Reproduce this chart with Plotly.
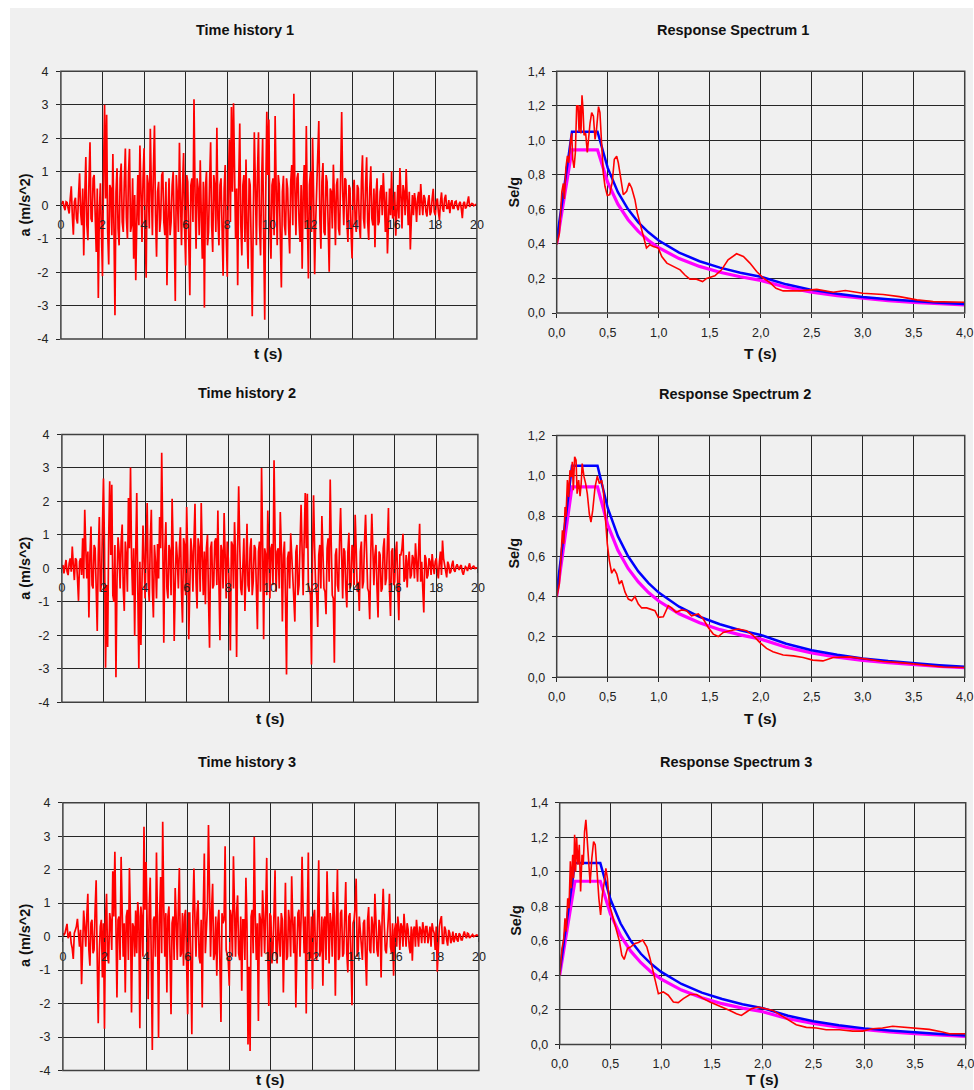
import plotly.graph_objects as go

# ---------------- DATA ----------------
# Time histories digitised on two interleaved sample grids:
#   *_a at t = 0.0, 0.1, ..., 20.0   and   *_b at t = 0.05, 0.15, ..., 19.95
TH_DT = 0.1

th1_a = [0.0, 0.12, -0.15, 0.08, -0.25, 0.56, -0.88, 0.22, -0.55, 0.95,
         -0.6, -1.5, 1.44, -1.05, 1.88, -0.5, 0.9, -1.4, -2.77, 0.65,
         -2.12, 3.0, 2.7, -1.77, 0.5, 1.53, -3.29, 1.1, -1.2, 1.24,
         -0.8, 1.69, -1.0, 1.68, -0.6, -1.6, -2.24, 0.9, 1.78, -1.1,
         1.7, -2.17, 0.6, 2.28, -0.9, 2.38, -1.54, 0.7, -0.4, 1.0,
         -0.9, -2.39, 0.8, -0.5, 1.0, -2.86, 0.3, 1.86, -1.2, 1.56,
         -1.8, 0.7, -2.69, 0.8, 3.16, -1.3, 0.5, 1.34, -1.6, -3.06,
         1.0, -0.8, 1.88, -1.4, 0.6, 2.31, -1.2, 0.8, -2.11, 1.2,
         -2.14, 1.96, 2.93, 3.04, -1.0, -2.39, 2.44, -1.5, 0.9, 1.36,
         -1.9, 0.6, -3.32, 2.18, -1.2, 2.18, -1.5, 1.98, -3.42, 2.79,
         2.56, -1.6, 0.8, 2.66, -1.2, 0.6, -2.46, 0.88, -0.9, 0.5,
         -1.44, 1.2, 3.33, -0.9, 0.96, -1.1, -1.9, 1.2, 2.36, -2.19,
         1.0, 2.01, -2.06, 0.6, 2.51, -1.3, 1.26, -0.9, 0.7, -1.99,
         0.4, 1.21, -1.2, 0.8, -0.9, 2.78, -0.6, 0.76, -1.1, 0.5,
         -1.59, 0.76, -0.8, 0.5, -1.0, 1.49, -0.7, 1.43, -1.04, 1.16,
         -0.6, -1.26, 0.8, -0.5, 0.6, 0.96, -0.8, -1.44, 0.5, 1.01,
         -0.3, -0.91, 0.6, 1.11, -0.7, 0.4, 1.08, -0.6, -1.32, 0.3,
         0.36, -0.5, 0.4, 0.63, -0.3, 0.2, -0.34, 0.3, -0.2, 0.49,
         -0.3, 0.2, -0.44, 0.38, -0.2, 0.31, -0.1, -0.24, 0.15, -0.1,
         0.12, -0.15, 0.1, -0.39, 0.1, -0.05, 0.26, 0.02, 0.04, 0.0,
         0.0]
th1_b = [0.05, -0.05, 0.1, -0.1, 0.2, -0.3, 0.1, -0.4, 0.3, -0.2,
         0.5, 0.3, -0.6, 0.7, -0.4, 0.8, -0.3, 0.5, -0.2, -0.8,
         0.9, 0.2, -0.8, 0.6, -0.9, -0.6, 0.4, -0.7, 0.8, -0.5,
         0.7, -0.4, 0.9, -0.8, 0.8, 0.3, -0.5, -0.6, 0.4, 0.8,
         -0.6, 0.9, -0.7, 0.5, 1.1, -0.3, 0.4, -0.8, 0.9, -0.5,
         0.7, -0.4, -0.9, 0.6, -0.7, 0.9, -0.8, 0.2, 0.6, -0.7,
         0.9, -1.1, 0.6, -0.5, 0.4, 0.8, -0.9, -0.3, 0.7, 0.5,
         -1.2, 0.7, -0.6, 0.9, -0.8, -0.4, 0.6, -0.7, 0.5, -0.9,
         0.6, -0.5, 0.4, 1.0, 0.5, 0.7, -0.6, 0.6, -1.1, -0.8,
         0.8, -1.2, -0.4, 0.6, 0.9, -0.6, 0.7, -1.0, 0.4, 0.9,
         -0.7, 0.6, -0.9, 0.5, 0.9, -1.0, 0.4, -0.6, 0.8, -0.7,
         0.7, -0.6, 0.5, 0.8, -0.5, 0.6, 0.4, -0.7, -0.4, 0.6,
         -0.8, 0.3, -0.5, 1.0, -0.4, 0.7, -0.8, 0.9, -0.6, 0.5,
         -0.7, 0.2, 0.6, -0.7, 0.9, 0.4, 0.8, -0.5, 0.6, -0.8,
         0.4, -0.5, 0.6, -0.6, 0.7, -0.4, 0.6, -0.5, 0.5, -0.4,
         0.5, 0.3, -0.6, 0.4, -0.3, 0.2, 0.4, -0.5, -0.3, -0.4,
         0.4, -0.2, -0.4, 0.3, 0.6, -0.3, 0.2, 0.4, -0.4, -0.3,
         0.1, 0.2, -0.3, 0.1, 0.3, -0.2, 0.1, -0.3, 0.2, -0.2,
         0.1, -0.2, 0.1, -0.1, 0.2, -0.1, 0.15, 0.05, -0.1, 0.1,
         -0.05, 0.05, -0.1, 0.05, -0.1, 0.1, -0.05, 0.05, -0.02, 0.02]

th2_a = [0.0, -0.15, 0.25, -0.2, 0.3, 0.65, -0.35, 0.25, -0.97, 0.3,
         0.9, 1.75, -0.3, -1.47, 1.25, -0.6, 0.6, -1.87, 1.53, -0.5,
         2.68, -2.97, -2.35, 2.6, 2.5, -1.0, -3.25, 0.93, -0.6, 1.31,
         -1.27, 0.4, 2.1, 3.01, -0.8, -2.02, 2.25, -2.99, -2.29, 1.28,
         -0.9, 1.95, -1.0, 1.75, -1.47, 0.2, 0.73, 1.53, 3.45, -2.22,
         1.38, -0.9, 0.5, 2.08, -2.17, 0.8, -0.6, 1.23, -1.62, 0.7,
         1.83, -2.12, 0.9, -0.7, 1.93, -1.2, 0.6, 1.95, -0.8, -1.07,
         1.0, -2.37, 0.8, -0.5, 0.9, 1.73, -2.15, 0.5, 1.65, -0.9,
         0.3, -2.45, 0.7, 1.38, -2.65, 2.45, -0.6, 0.4, -1.27, 1.33,
         -0.7, 0.9, -0.4, 0.6, -1.82, 0.8, 3.0, -2.12, 0.4, 1.73,
         -0.9, 0.73, 3.23, -0.7, 0.6, 1.68, -1.59, 0.8, -3.17, 0.5,
         1.05, -0.6, -1.59, 0.7, -0.5, 1.9, -0.8, 2.25, 2.23, -0.6,
         -2.87, 2.18, -0.5, -1.75, 0.7, 1.56, -0.6, -1.37, 0.9, 2.65,
         -0.8, -2.82, 0.6, -0.7, 1.8, -0.9, 0.5, -1.17, 1.06, -0.5,
         0.6, 1.6, -0.7, -1.27, 0.8, -0.4, 1.6, -0.6, -1.52, 1.63,
         -0.5, 0.7, -1.47, 0.4, -0.6, 0.9, -0.3, 1.8, -1.42, 0.6,
         -0.4, 0.8, -1.55, 0.4, 1.03, -0.3, -0.57, 0.5, -0.2, 0.3,
         0.75, -0.4, 1.33, 0.2, -1.32, 0.3, -0.2, 0.2, 0.43, -0.17,
         0.3, -0.3, 0.5, 0.83, 0.1, -0.27, 0.1, -0.1, 0.23, -0.1,
         0.12, -0.05, 0.1, -0.19, 0.05, -0.08, 0.15, 0.02, 0.08, 0.02,
         0.0]
th2_b = [0.1, 0.05, -0.1, 0.15, -0.1, 0.1, 0.3, -0.3, 0.2, -0.2,
         -0.3, 0.6, 0.5, 0.4, -0.5, 0.7, -0.6, 0.4, -0.7, 1.2,
         0.6, -0.5, 0.9, 0.4, -0.8, 0.7, -0.4, 0.5, 0.8, -0.6,
         0.8, -0.7, 0.6, 0.3, 0.6, 0.5, -0.6, 0.2, -0.5, 0.4,
         0.6, -0.4, 0.8, -0.6, 0.7, -0.9, -0.3, 0.6, 0.9, 0.5,
         -0.6, 0.7, -0.8, 0.6, -0.5, 0.3, 0.6, -0.7, 0.9, -0.8,
         0.4, -0.6, 0.5, 0.8, -0.4, 0.9, -0.7, 0.4, 0.5, 0.6,
         -0.9, 0.6, -0.6, 0.8, -0.5, -0.4, 0.7, -0.6, 0.4, 0.8,
         -0.7, 0.8, -0.6, 0.4, 0.6, 0.7, -0.8, 0.9, 0.6, -0.5,
         0.6, -0.8, 0.7, -0.6, 0.5, -0.7, 0.8, 0.6, -0.8, 0.4,
         0.6, -0.5, 0.9, 0.5, -0.6, 0.6, 0.4, -0.9, 0.3, -0.6,
         0.4, -0.9, 0.5, -0.8, 0.6, 0.5, 0.9, 0.6, -0.5, -0.8,
         0.5, 0.6, -0.8, 0.4, -0.6, 0.5, -0.7, 0.6, -0.4, 0.7,
         -0.9, 0.4, -0.5, 0.8, 0.4, 0.6, -0.6, 0.5, -0.6, 0.7,
         -0.5, 0.6, -0.4, 0.5, -0.6, 0.8, 0.5, -0.7, 0.4, 0.6,
         0.4, -0.6, 0.5, -0.7, 0.6, -0.5, 0.7, -0.6, 0.5, -0.5,
         0.5, -0.6, 0.4, 0.6, -0.4, 0.4, 0.2, -0.3, 0.4, -0.3,
         0.2, 0.5, -0.4, -0.6, 0.4, -0.3, 0.3, -0.2, 0.1, 0.2,
         -0.1, 0.2, -0.2, 0.3, -0.1, 0.2, -0.15, 0.1, -0.05, 0.05,
         0.03, 0.06, -0.1, -0.05, 0.02, 0.05, -0.03, 0.06, -0.02, 0.01]

th3_a = [0.1, 0.1, 0.38, 0.1, -0.2, -0.67, 0.2, 0.53, -0.3, -1.42,
         0.78, -0.3, 1.28, -0.87, 0.5, -0.4, 1.68, -2.59, 0.3, -1.22,
         -2.75, 1.28, -0.8, 0.43, 1.95, 2.53, -1.82, 0.6, 2.38, -0.6,
         -1.67, 0.8, 2.05, -2.27, 0.3, 0.78, 1.03, -2.74, 0.5, 3.28,
         2.23, -1.87, 1.76, -3.39, 0.6, 2.51, -3.03, 1.78, 3.43, -0.6,
         -1.67, 0.9, -2.32, 0.6, 1.45, -0.7, 2.05, -0.5, -0.87, 0.8,
         -2.32, 0.7, -2.92, 2.03, -0.6, 1.08, -0.8, -2.12, 2.48, 0.5,
         3.33, -0.6, 1.58, -0.5, -1.17, 0.8, -2.55, 0.4, 2.7, -0.6,
         -1.47, 0.6, 2.4, -0.6, 1.23, -0.7, -1.62, 0.5, 1.76, -3.22,
         -3.42, 0.8, 2.98, -0.7, -2.52, 0.5, 1.38, -0.5, 2.35, -2.07,
         0.6, -0.4, 1.98, -0.8, -0.02, 0.7, -1.67, 1.61, -0.6, 0.4,
         1.8, -0.5, -2.12, 0.7, -0.6, 2.38, -0.5, -2.3, 2.51, -0.6,
         -1.57, 0.8, -0.7, 2.28, -0.4, -1.47, 0.6, 1.95, -0.8, 0.4,
         1.33, -1.77, 2.0, -0.6, 0.8, -0.5, 1.63, -1.07, 0.7, -2.05,
         0.5, 1.73, -0.4, 0.13, -0.7, 0.5, -1.47, 0.88, -0.5, 0.3,
         1.28, -0.4, 0.5, -1.22, 1.43, -0.4, 0.3, 1.28, -0.5, -1.17,
         0.4, 0.6, -0.4, 0.3, 0.68, -0.3, 0.2, -0.5, -0.72, 0.3,
         0.5, -0.3, 0.2, 0.43, -0.2, 0.3, 0.03, -0.3, 0.2, -0.4,
         -1.05, 0.3, 0.61, -0.2, 0.2, -0.27, 0.1, -0.1, -0.17, 0.1,
         -0.15, 0.05, -0.1, 0.15, -0.05, 0.08, 0.0, 0.06, 0.02, 0.05,
         0.02]
th3_b = [0.05, 0.25, -0.05, 0.15, -0.35, 0.1, 0.3, -0.1, 0.2, -0.3,
         0.3, 0.6, -0.4, 0.4, -0.5, 0.8, -0.6, -0.5, 0.5, 0.4,
         0.5, -0.6, 0.7, -0.4, 0.6, 0.4, 0.5, -0.7, 0.8, 0.4,
         0.6, -0.7, 0.5, 0.4, -0.6, -0.5, 0.6, 0.9, -0.6, 0.8,
         0.5, 0.8, -0.7, 0.5, -0.6, 0.4, 0.6, -0.5, 0.9, 0.7,
         0.6, -0.6, 0.4, -0.7, 0.5, 0.8, -0.6, 0.7, 0.6, -0.8,
         0.7, -0.8, 0.6, 0.5, 0.7, -0.6, 0.5, 0.8, -0.5, 0.9,
         0.6, 0.8, -0.7, 0.6, 0.4, -0.8, 0.7, 0.5, -0.4, -0.7,
         0.8, -0.6, 0.5, 0.7, -0.5, 0.6, 0.5, -0.7, 0.4, -0.9,
         0.6, -0.5, 0.6, 0.4, 0.7, -0.6, 0.6, 0.8, -0.5, 0.7,
         -0.8, 0.7, -0.5, 0.6, -0.6, 0.5, 0.6, -0.7, 0.8, -0.6,
         0.5, 0.6, -0.5, 0.8, 0.5, 0.7, 0.6, 0.4, -0.7, 0.6,
         0.6, -0.6, 0.7, -0.6, 0.6, 0.5, -0.7, 0.5, 0.7, -0.6,
         0.6, 0.5, -0.7, 0.7, -0.6, 0.6, -0.5, 0.6, -0.6, 0.4,
         0.9, -0.6, 0.6, -0.3, 0.4, -0.6, 0.5, -0.4, 0.6, -0.5,
         0.5, -0.6, 0.3, 0.6, 0.4, -0.5, 0.6, -0.3, 0.4, 0.2,
         -0.3, 0.3, 0.4, -0.3, 0.3, 0.4, -0.3, 0.3, 0.2, -0.3,
         0.1, 0.3, -0.2, 0.2, 0.3, -0.2, 0.3, 0.4, 0.1, 0.3,
         -0.3, 0.5, -0.2, 0.3, -0.1, 0.2, -0.2, 0.15, -0.05, -0.1,
         0.1, -0.1, 0.05, 0.02, 0.1, -0.04, 0.05, 0.0, 0.04, 0.03]

# design (code) spectra, identical in the three panels
code_T = [0.0, 0.15, 0.4, 0.5, 0.6, 0.7, 0.8, 0.9, 1.0, 1.2, 1.4, 1.6, 1.8, 2.0,
          2.25, 2.5, 2.75, 3.0, 3.25, 3.5, 3.75, 4.0]
code_blue = [0.42, 1.05, 1.05, 0.84, 0.70, 0.60, 0.525, 0.467, 0.42, 0.35, 0.30,
             0.263, 0.233, 0.21, 0.166, 0.134, 0.111, 0.093, 0.080, 0.069, 0.060, 0.052]
code_magenta = [0.40, 0.945, 0.945, 0.756, 0.63, 0.54, 0.473, 0.42, 0.378, 0.315, 0.27,
                0.236, 0.21, 0.189, 0.149, 0.121, 0.100, 0.084, 0.072, 0.062, 0.054, 0.047]

rs1_T = [0.0, 0.026, 0.05, 0.065, 0.075, 0.09, 0.105, 0.118, 0.137, 0.147, 0.157, 0.17,
         0.183, 0.196, 0.209, 0.219, 0.229, 0.238, 0.248, 0.258, 0.268, 0.284, 0.30,
         0.313, 0.327, 0.343, 0.36, 0.376, 0.39, 0.41, 0.424, 0.44, 0.457, 0.473, 0.496,
         0.52, 0.545, 0.565, 0.588, 0.604, 0.62, 0.637, 0.653, 0.686, 0.71, 0.735, 0.767,
         0.79, 0.816, 0.842, 0.865, 0.88, 0.914, 0.947, 0.996, 1.03, 1.08, 1.14, 1.21,
         1.257, 1.306, 1.37, 1.43, 1.47, 1.55, 1.616, 1.68, 1.763, 1.83, 1.894, 1.96,
         2.02, 2.09, 2.15, 2.22, 2.38, 2.55, 2.71, 2.83, 3.0, 3.2, 3.36, 3.53, 3.69,
         3.85, 4.0]
rs1_S = [0.395, 0.46, 0.70, 0.75, 0.66, 0.84, 0.91, 0.87, 1.005, 1.04, 0.89, 0.84,
         0.93, 1.20, 1.20, 1.05, 1.20, 1.04, 1.26, 1.18, 1.03, 1.04, 0.93,
         1.02, 1.10, 1.16, 1.14, 1.005, 1.06, 1.195, 1.16, 0.985, 0.81, 0.734, 0.68,
         0.685, 0.76, 0.89, 0.908, 0.87, 0.80, 0.734, 0.685, 0.705, 0.753, 0.724, 0.656,
         0.58, 0.52, 0.463, 0.424, 0.376, 0.395, 0.385, 0.376, 0.327, 0.289, 0.269, 0.25,
         0.22, 0.196, 0.196, 0.182, 0.20, 0.215, 0.25, 0.308, 0.343, 0.327, 0.289, 0.24,
         0.205, 0.176, 0.143, 0.128, 0.128, 0.137, 0.12, 0.13, 0.114, 0.107, 0.095, 0.076, 0.066,
         0.062, 0.062]

rs2_T = [0.0, 0.026, 0.042, 0.056, 0.069, 0.082, 0.091, 0.105, 0.118, 0.13, 0.144, 0.153,
         0.163, 0.176, 0.19, 0.20, 0.215, 0.229, 0.24, 0.25, 0.268, 0.284, 0.30, 0.32,
         0.336, 0.353, 0.376, 0.398, 0.418, 0.44, 0.457, 0.473, 0.496, 0.516, 0.539,
         0.562, 0.588, 0.614, 0.637, 0.67, 0.702, 0.735, 0.767, 0.80, 0.833, 0.882, 0.93,
         0.963, 0.996, 1.045, 1.094, 1.127, 1.17, 1.224, 1.273, 1.322, 1.388, 1.437, 1.486,
         1.535, 1.584, 1.633, 1.698, 1.78, 1.86, 1.927, 1.99, 2.057, 2.12, 2.22, 2.32,
         2.416, 2.51, 2.61, 2.71, 2.87, 3.04, 3.2, 3.4, 3.59, 3.79, 4.0]
rs2_S = [0.397, 0.463, 0.596, 0.729, 0.662, 0.845, 0.795, 0.978, 0.895, 1.027, 0.994, 1.069,
         0.928, 1.094, 1.077, 0.911, 0.978, 0.898, 0.961, 1.06, 0.994, 0.961, 0.911, 0.81,
         0.77, 0.828, 0.944, 0.998, 0.961, 0.978, 0.928, 0.81, 0.662, 0.579, 0.516,
         0.538, 0.513, 0.463, 0.48, 0.422, 0.388, 0.38, 0.40, 0.363, 0.344, 0.344, 0.334,
         0.33, 0.297, 0.30, 0.355, 0.344, 0.322, 0.334, 0.33, 0.305, 0.314, 0.289, 0.247,
         0.214, 0.202, 0.222, 0.231, 0.239, 0.231, 0.206, 0.173, 0.143, 0.126, 0.11, 0.106,
         0.098, 0.085, 0.081, 0.098, 0.101, 0.09, 0.078, 0.071, 0.061, 0.051, 0.048]

rs3_T = [0.0, 0.023, 0.04, 0.052, 0.065, 0.079, 0.092, 0.105, 0.115, 0.128, 0.137, 0.147,
         0.157, 0.167, 0.18, 0.193, 0.206, 0.22, 0.232, 0.245, 0.258, 0.27, 0.285, 0.30,
         0.317, 0.334, 0.35, 0.367, 0.386, 0.403, 0.42, 0.44, 0.455, 0.47, 0.49, 0.514,
         0.537, 0.563, 0.59, 0.612, 0.635, 0.668, 0.70, 0.743, 0.776, 0.818, 0.858, 0.89,
         0.923, 0.95, 0.972, 1.02, 1.07, 1.12, 1.168, 1.218, 1.283, 1.349, 1.414, 1.48,
         1.545, 1.61, 1.676, 1.741, 1.79, 1.84, 1.89, 1.954, 2.02, 2.10, 2.18, 2.25, 2.33,
         2.43, 2.53, 2.625, 2.756, 2.887, 2.985, 3.08, 3.18, 3.28, 3.38, 3.51, 3.64, 3.77,
         3.84, 4.0]
rs3_S = [0.40, 0.556, 0.614, 0.73, 0.653, 0.846, 0.788, 1.06, 0.904, 1.098, 0.962, 1.214,
         1.00, 1.195, 1.04, 1.156, 0.885, 1.098, 1.04, 1.233, 1.30, 1.175, 1.04, 0.933,
         1.08, 1.175, 1.156, 1.00, 0.846, 0.75, 0.866, 0.943, 1.02, 0.962, 0.808, 0.76,
         0.71, 0.653, 0.594, 0.517, 0.492, 0.556, 0.565, 0.585, 0.59, 0.604, 0.565, 0.498,
         0.42, 0.343, 0.294, 0.304, 0.285, 0.246, 0.242, 0.265, 0.289, 0.289, 0.265, 0.246,
         0.23, 0.217, 0.197, 0.178, 0.168, 0.188, 0.207, 0.217, 0.207, 0.197, 0.168, 0.145, 0.114,
         0.099, 0.095, 0.085, 0.085, 0.077, 0.077, 0.091, 0.095, 0.105, 0.10, 0.091, 0.087, 0.072,
         0.062, 0.062]

th_titles = ["Time history 1", "Time history 2", "Time history 3"]
rs_titles = ["Response Spectrum 1", "Response Spectrum 2", "Response Spectrum 3"]
th_xticks = [0, 2, 4, 6, 8, 10, 12, 14, 16, 18, 20]
th_yticks = [-4, -3, -2, -1, 0, 1, 2, 3, 4]
th_yticktext = ["-4", "-3", "-2", "-1", "0", "1", "2", "3", "4"]
rs_ymax = [1.4, 1.2, 1.4]


def merge(a, b):
    """Put the two digitised sample grids of a record in time order."""
    t, v = [], []
    for k, val in enumerate(a):
        t.append(round(k * TH_DT, 3))
        v.append(val)
        if k < len(b):
            t.append(round(k * TH_DT + TH_DT / 2, 3))
            v.append(b[k])
    return t, v


# ---------------- LAYOUT GEOMETRY ----------------
# Target positions are given in pixels of the final 974x1090 picture.
# The page is shown with an 8 px offset and a 0.984 scale, so the figure is
# laid out in its own pixel space that maps onto those picture pixels.
OFF, SC = 8.0, 0.984
W, H = 982, 1100
FONT = "Liberation Sans, Arial, sans-serif"
GRID = "#262626"
BG = "#f0f0f0"

th_boxes = [(60, 477, 72, 339), (61, 478, 434, 701), (62, 479, 801, 1068)]
rs_boxes = [(557, 966, 72, 313), (557, 966, 435, 676), (560, 967, 801, 1042)]
th_title_pos = [(245, 31), (247, 393), (247, 760)]
rs_title_pos = [(734, 31), (736, 394), (737, 760)]
th_ylab_pos = [(24, 205), (24, 567), (24, 933)]
th_xlab_pos = [(268, 353), (270, 717), (270, 1077)]
rs_ylab_pos = [(514, 192), (514, 552), (516, 918)]
rs_xlab_pos = [(761, 353), (761, 717), (763, 1077)]


def clamp(v):
    return max(0.0, min(1.0, v))


def fx(p):
    return clamp(((p - OFF) / SC) / W)


def fy(p):
    return clamp(1 - ((p - OFF) / SC) / H)


def names(i):
    s = "" if i == 1 else str(i)
    return "xaxis" + s, "yaxis" + s, "x" + s, "y" + s


fig = go.Figure()
layout = dict(
    width=W, height=H, margin=dict(l=0, r=0, t=0, b=0),
    paper_bgcolor="white", plot_bgcolor=BG, showlegend=False,
    separators=",.", font=dict(family=FONT, size=12, color="#222"),
    annotations=[], shapes=[],
)
layout["shapes"].append(dict(type="rect", xref="paper", yref="paper",
                             x0=fx(9), x1=1.0, y0=0.0, y1=fy(9),
                             fillcolor=BG, line=dict(width=0), layer="below"))

th_data = [merge(th1_a, th1_b), merge(th2_a, th2_b), merge(th3_a, th3_b)]
rs_data = [(rs1_T, rs1_S), (rs2_T, rs2_S), (rs3_T, rs3_S)]


def label(text, pos, size, angle=0):
    layout["annotations"].append(dict(text="<b>" + text + "</b>", x=fx(pos[0]), y=fy(pos[1]),
                                      xref="paper", yref="paper", showarrow=False,
                                      xanchor="center", yanchor="middle",
                                      textangle=angle, font=dict(size=size, color="#111")))


TICKFONT = dict(size=12.5, color="#222")
ax = 0
for r in range(3):
    # ---- time history ----
    ax += 1
    xa, ya, xr, yr = names(ax)
    x0, x1, y0, y1 = th_boxes[r]
    tt, vv = th_data[r]
    fig.add_trace(go.Scatter(x=tt, y=vv, mode="lines",
                             line=dict(color="#ff0000", width=1.7),
                             xaxis=xr, yaxis=yr, hoverinfo="skip"))
    zero_pos = fy((y0 + y1) / 2)
    layout[xa] = dict(domain=[fx(x0), fx(x1)], anchor="free", position=zero_pos,
                      range=[0, 20], tickvals=th_xticks, showgrid=True,
                      gridcolor=GRID, gridwidth=1, zeroline=False, showline=False,
                      ticks="outside", ticklen=4, tickcolor=GRID,
                      ticklabelstandoff=4, tickfont=TICKFONT)
    layout[ya] = dict(domain=[fy(y1), fy(y0)], anchor=xr, range=[-4, 4],
                      tickvals=th_yticks, ticktext=th_yticktext, showgrid=True,
                      gridcolor=GRID, gridwidth=1, zeroline=True, zerolinecolor="#000",
                      zerolinewidth=1, showline=False, ticks="outside", ticklen=4,
                      tickcolor=GRID, ticklabelstandoff=5, tickfont=TICKFONT)
    layout["shapes"].append(dict(type="rect", xref=f"{xr} domain", yref=f"{yr} domain",
                                 x0=0, x1=1, y0=0, y1=1,
                                 line=dict(color="#404040", width=1.5)))
    label(th_titles[r], th_title_pos[r], 14.5)
    label("a (m/s^2)", th_ylab_pos[r], 14.5, -90)
    label("t (s)", th_xlab_pos[r], 15.5)

    # ---- response spectrum ----
    ax += 1
    xa, ya, xr, yr = names(ax)
    x0, x1, y0, y1 = rs_boxes[r]
    fig.add_trace(go.Scatter(x=code_T, y=code_magenta, mode="lines",
                             line=dict(color="#ff00ff", width=3.2),
                             xaxis=xr, yaxis=yr, hoverinfo="skip"))
    fig.add_trace(go.Scatter(x=code_T, y=code_blue, mode="lines",
                             line=dict(color="#0000ff", width=2.5),
                             xaxis=xr, yaxis=yr, hoverinfo="skip"))
    rT, rS = rs_data[r]
    fig.add_trace(go.Scatter(x=rT, y=rS, mode="lines",
                             line=dict(color="#ff0000", width=1.6),
                             xaxis=xr, yaxis=yr, hoverinfo="skip"))
    layout[xa] = dict(domain=[fx(x0), fx(x1)], anchor=yr, range=[0, 4], dtick=0.5,
                      tick0=0, tickformat=".1f", showgrid=True, gridcolor=GRID,
                      gridwidth=1, zeroline=False, showline=False, ticks="outside",
                      ticklen=4, tickcolor=GRID, ticklabelstandoff=4, tickfont=TICKFONT)
    layout[ya] = dict(domain=[fy(y1), fy(y0)], anchor=xr, range=[0, rs_ymax[r]],
                      dtick=0.2, tick0=0, tickformat=".1f", showgrid=True,
                      gridcolor=GRID, gridwidth=1, zeroline=False, showline=False,
                      ticks="outside", ticklen=4, tickcolor=GRID, ticklabelstandoff=4,
                      tickfont=TICKFONT)
    layout["shapes"].append(dict(type="rect", xref=f"{xr} domain", yref=f"{yr} domain",
                                 x0=0, x1=1, y0=0, y1=1,
                                 line=dict(color="#404040", width=1.5)))
    label(rs_titles[r], rs_title_pos[r], 14.5)
    label("Se/g", rs_ylab_pos[r], 14.5, -90)
    label("T (s)", rs_xlab_pos[r], 15.5)

fig.update_layout(**layout)
fig.write_html("out.html", config={"displayModeBar": False})
